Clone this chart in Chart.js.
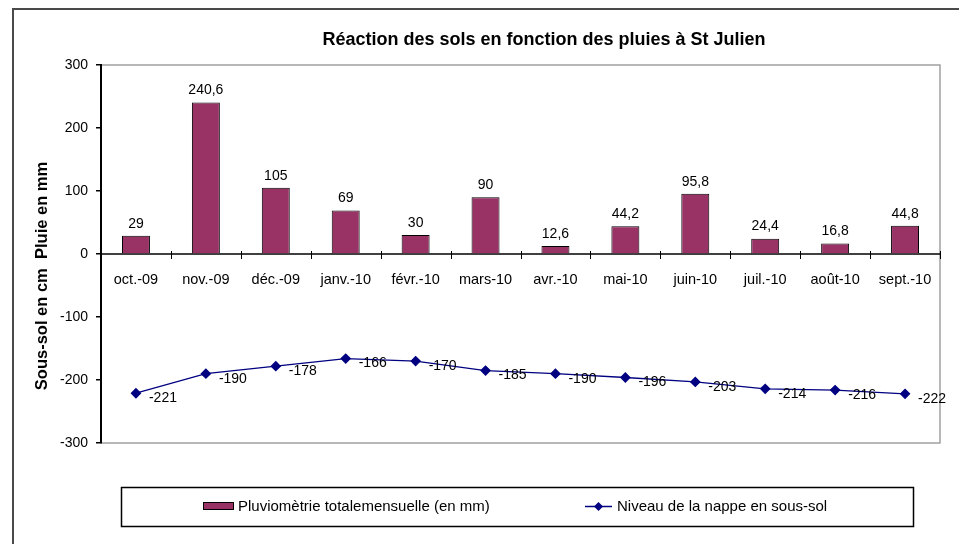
<!DOCTYPE html>
<html>
<head>
<meta charset="utf-8">
<script src="https://cdn.jsdelivr.net/npm/chart.js@4"></script>
<style>
  html, body { margin: 0; padding: 0; background: #fff; }
  #wrap { width: 959px; height: 544px; position: relative; }
</style>
</head>
<body>
<div id="wrap"><canvas id="chart" width="959" height="544"></canvas></div>
<script>
// Data
const months = ["oct.-09", "nov.-09", "déc.-09", "janv.-10", "févr.-10", "mars-10",
  "avr.-10", "mai-10", "juin-10", "juil.-10", "août-10", "sept.-10"];
const rainMm = [29, 240.6, 105, 69, 30, 90, 12.6, 44.2, 95.8, 24.4, 16.8, 44.8];
const waterLevel = [-221, -190, -178, -166, -170, -185, -190, -196, -203, -214, -216, -222];
const yTicks = [-300, -200, -100, 0, 100, 200, 300];

const FONT = "'Liberation Sans', Arial, sans-serif";
const barColor = "#993366";
const lineColor = "#000080";

function fmt(v) {
  return String(v).replace(".", ",");
}

// frame, title, plot border, zero axis, labels, legend
const decorPlugin = {
  id: "decor",
  beforeDraw(chart) {
    const ctx = chart.ctx;
    const a = chart.chartArea;
    ctx.save();
    ctx.fillStyle = "#fff";
    ctx.fillRect(0, 0, chart.width, chart.height);
    // outer frame (top + left)
    ctx.strokeStyle = "#4a4a4a";
    ctx.lineWidth = 2;
    ctx.beginPath();
    ctx.moveTo(13, 544);
    ctx.lineTo(13, 9);
    ctx.lineTo(959, 9);
    ctx.stroke();
    // plot border
    ctx.strokeStyle = "#a0a0a0";
    ctx.lineWidth = 1.5;
    ctx.strokeRect(a.left, a.top, a.right - a.left, a.bottom - a.top);
    // title
    ctx.fillStyle = "#000";
    ctx.font = "bold 18px " + FONT;
    ctx.textAlign = "center";
    ctx.textBaseline = "middle";
    ctx.fillText("Réaction des sols en fonction des pluies à St Julien", 544, 40);
    // y axis title
    ctx.save();
    ctx.translate(42, 276);
    ctx.rotate(-Math.PI / 2);
    ctx.font = "bold 16.5px " + FONT;
    ctx.fillText("Sous-sol en cm  Pluie en mm", 0, 0);
    ctx.restore();
    ctx.restore();
  },
  beforeDatasetsDraw(chart) {
    const ctx = chart.ctx;
    const x = chart.scales.x;
    const y = chart.scales.y;
    const a = chart.chartArea;
    const y0 = y.getPixelForValue(0);
    ctx.save();
    ctx.strokeStyle = "#000";
    ctx.lineWidth = 1.5;
    ctx.beginPath();
    ctx.moveTo(a.left, y0);
    ctx.lineTo(a.right, y0);
    ctx.stroke();
    ctx.lineWidth = 1;
    const step = (a.right - a.left) / months.length;
    for (let i = 1; i <= months.length; i++) {
      const px = Math.round(a.left + step * i) + 0.5;
      ctx.beginPath();
      ctx.moveTo(px, y0 - 3);
      ctx.lineTo(px, y0 + 5);
      ctx.stroke();
    }
    ctx.fillStyle = "#000";
    ctx.font = "14.5px " + FONT;
    ctx.textAlign = "center";
    ctx.textBaseline = "middle";
    months.forEach((m, i) => {
      ctx.fillText(m, x.getPixelForValue(i), y0 + 26);
    });
    ctx.restore();
  },
  afterDatasetsDraw(chart) {
    const ctx = chart.ctx;
    ctx.save();
    ctx.fillStyle = "#000";
    ctx.font = "14px " + FONT;
    // bar labels
    ctx.textAlign = "center";
    ctx.textBaseline = "bottom";
    chart.getDatasetMeta(0).data.forEach((el, i) => {
      ctx.fillText(fmt(rainMm[i]), el.x, el.y - 5);
    });
    // line labels
    ctx.textAlign = "left";
    ctx.textBaseline = "middle";
    chart.getDatasetMeta(1).data.forEach((el, i) => {
      ctx.fillText(fmt(waterLevel[i]), el.x + 13, el.y + 5);
    });
    // legend
    ctx.strokeStyle = "#000";
    ctx.lineWidth = 1.5;
    ctx.strokeRect(121.5, 487.5, 792, 39);
    ctx.fillStyle = barColor;
    ctx.fillRect(203, 502, 31, 8);
    ctx.strokeStyle = "#000";
    ctx.lineWidth = 1;
    ctx.strokeRect(203.5, 502.5, 30, 7);
    ctx.fillStyle = "#000";
    ctx.font = "15px " + FONT;
    ctx.fillText(chart.data.datasets[0].label, 238, 507);
    ctx.strokeStyle = lineColor;
    ctx.lineWidth = 1.5;
    ctx.beginPath();
    ctx.moveTo(585, 506.5);
    ctx.lineTo(612, 506.5);
    ctx.stroke();
    ctx.fillStyle = lineColor;
    ctx.beginPath();
    ctx.moveTo(598.5, 502);
    ctx.lineTo(603, 506.5);
    ctx.lineTo(598.5, 511);
    ctx.lineTo(594, 506.5);
    ctx.closePath();
    ctx.fill();
    ctx.fillStyle = "#000";
    ctx.fillText(chart.data.datasets[1].label, 617, 507);
    ctx.restore();
  }
};

new Chart(document.getElementById("chart").getContext("2d"), {
  data: {
    labels: months,
    datasets: [
      {
        type: "bar",
        label: "Pluviomètrie totalemensuelle (en mm)",
        data: rainMm,
        backgroundColor: barColor,
        borderColor: "#000",
        borderWidth: 1,
        barPercentage: 0.4,
        categoryPercentage: 1,
        order: 2,
      },
      {
        type: "line",
        label: "Niveau de la nappe en sous-sol",
        data: waterLevel,
        borderColor: lineColor,
        backgroundColor: lineColor,
        borderWidth: 1.3,
        tension: 0,
        pointStyle: "rectRot",
        pointRadius: 4.5,
        pointBackgroundColor: lineColor,
        pointBorderColor: lineColor,
        order: 1,
      },
    ],
  },
  options: {
    responsive: false,
    animation: false,
    events: [],
    layout: { padding: { left: 0, top: 65, right: 19, bottom: 101 } },
    plugins: {
      legend: { display: false },
      title: { display: false },
      tooltip: { enabled: false },
    },
    scales: {
      x: {
        display: false,
        offset: true,
      },
      y: {
        min: -300,
        max: 300,
        afterBuildTicks(scale) {
          scale.ticks = yTicks.map((v) => ({ value: v }));
        },
        afterFit(scale) {
          scale.width = 101;
        },
        grid: {
          drawOnChartArea: false,
          drawTicks: true,
          tickLength: 5,
          color: "#000",
          lineWidth: 1.5,
        },
        border: { color: "#000", width: 2 },
        ticks: {
          color: "#000",
          padding: 8,
          font: { family: FONT, size: 14 },
        },
      },
    },
  },
  plugins: [decorPlugin],
});
</script>
</body>
</html>
